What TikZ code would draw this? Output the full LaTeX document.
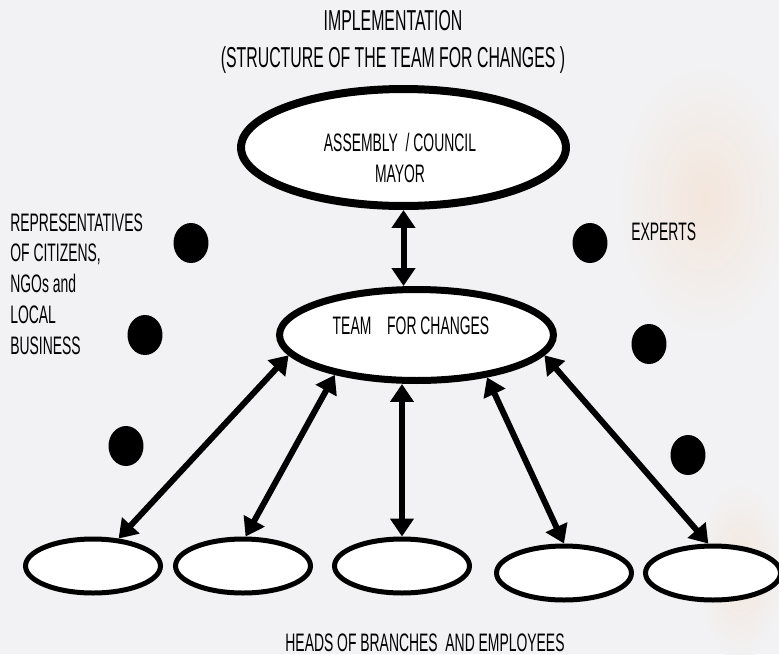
\documentclass[tikz,border=0pt]{standalone}
\usepackage{fontspec}
\setmainfont{Liberation Sans}[FakeStretch=0.55]
\usepackage{xcolor}
\usetikzlibrary{arrows.meta,shapes.geometric,calc}

\definecolor{bgcol}{HTML}{F2F2F4}
\definecolor{peach}{HTML}{F3E6DC}

\tikzset{
  bigoval/.style={shape=ellipse,draw=black,fill=white,inner sep=0pt},
  smalloval/.style={shape=ellipse,draw=black,fill=white,inner sep=0pt,
    line width=0.1cm,minimum width=2.7cm,minimum height=1.08cm},
  bullet/.style={shape=ellipse,fill=black,inner sep=0pt,
    minimum width=0.7cm,minimum height=0.8cm},
  lbl/.style={inner sep=0pt,font=\fontsize{14.4}{17.6}\selectfont},
  twoway/.style={{Triangle[length=0.36cm,width=0.46cm]}-{Triangle[length=0.36cm,width=0.46cm]},
    line width=0.12cm}
}

\begin{document}
\begin{tikzpicture}[x=0.02cm,y=-0.02cm]
    \useasboundingbox (0,0) rectangle (779,654);
    \fill[bgcol] (0,0) rectangle (779,654);
    % soft tint behind the right side
    \shade[inner color=peach,outer color=bgcol] (705,200) ellipse (90 and 140);
    \shade[inner color=peach,outer color=bgcol] (740,570) ellipse (45 and 90);

    \node[lbl,anchor=north,align=center,font=\fontsize{16.4}{21}\selectfont] (title) at (393,10)
        {IMPLEMENTATION\\(STRUCTURE OF THE TEAM FOR CHANGES )};

    \node[bigoval,line width=0.16cm,minimum width=6.5cm,minimum height=2.34cm] (assembly) at (403.5,147.5) {};
    \node[lbl,align=center,font=\fontsize{14.4}{18}\selectfont] (assemblytxt) at (400,158)
        {ASSEMBLY~ / COUNCIL\\MAYOR};

    \node[bigoval,line width=0.14cm,minimum width=5.48cm,minimum height=1.82cm] (team) at (416.5,335) {};
    \node[lbl] (teamtxt) at (411,326) {TEAM\hspace{9pt}FOR CHANGES};

    %\node for the branches
    \node[smalloval] (b1) at (93,566) {};
    \node[smalloval] (b2) at (243,566) {};
    \node[smalloval] (b3) at (402,566) {};
    \node[smalloval] (b4) at (564,573) {};
    \node[smalloval] (b5) at (713,573) {};

    \node[bullet] (repA) at (191,243) {};
    \node[bullet] (repB) at (145,335) {};
    \node[bullet] (repC) at (126,446) {};
    \node[bullet] (expA) at (590,243) {};
    \node[bullet] (expB) at (649,344) {};
    \node[bullet] (expC) at (688,455) {};

    \node[lbl,anchor=north west,align=left] (reps) at (10,213)
        {REPRESENTATIVES\\OF CITIZENS,\\NGOs and\\LOCAL\\BUSINESS};
    \node[lbl,anchor=north west] (experts) at (631,222) {EXPERTS};
    \node[lbl,anchor=north] (heads) at (425,633) {HEADS OF BRANCHES~ AND EMPLOYEES};

    \path [twoway](assembly.south) edge (assembly.south |- team.north);
    \path [twoway](team.189) edge (b1.47);
    \path [twoway](team.206) edge (b2.85);
    \path [twoway](b3.north |- team.south) edge (b3.north);
    \path [twoway](team.329) edge (b4.north);
    \path [twoway](team.351) edge (b5.99);
\end{tikzpicture}
\end{document}
